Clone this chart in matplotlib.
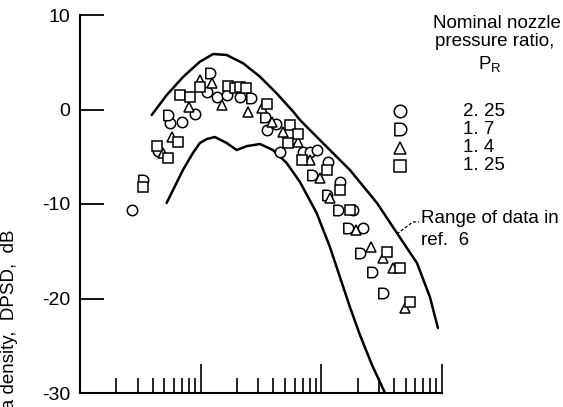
import numpy as np
import matplotlib
matplotlib.use("Agg")
import matplotlib.pyplot as plt
from matplotlib.path import Path
from matplotlib.ticker import LogLocator, NullFormatter

plt.rcParams["font.family"] = ["Liberation Sans", "DejaVu Sans"]
fs = 13.5

# range of data in ref. 6
upper_x = [0.0393, 0.0523, 0.0718, 0.0986, 0.127, 0.164, 0.225, 0.310, 0.426,
           0.585, 0.665, 0.973, 1.725, 2.89, 4.23, 6.20, 7.94, 9.25]
upper_y = [-0.58, 1.53, 3.47, 5.06, 5.87, 5.77, 4.89, 3.47, 1.71,
           -0.23, -1.11, -3.23, -6.40, -9.89, -13.07, -16.24, -19.84, -23.12]
lower_x = [0.0522, 0.0713, 0.0863, 0.0986, 0.1127, 0.131, 0.164, 0.199, 0.240,
           0.310, 0.397, 0.516, 0.665, 0.914, 1.178, 1.425, 1.725, 2.09, 2.63, 3.37]
lower_y = [-9.89, -6.40, -4.60, -3.54, -3.12, -2.91, -3.54, -4.29, -3.88,
           -3.65, -4.29, -5.66, -7.67, -10.95, -14.55, -17.72, -20.90, -23.86, -27.04, -30.0]

# measured DPSD, one pair of lists per nozzle pressure ratio
pr225_x = [0.0270, 0.0443, 0.0557, 0.0700, 0.0897, 0.1127, 0.1365, 0.165, 0.212,
           0.354, 0.421, 0.454, 0.705, 0.805, 0.920, 1.135, 1.426, 1.828, 2.213]
pr225_y = [-10.63, -4.39, -1.43, -1.32, -0.48, 1.85, 1.32, 1.53, 1.32,
           -2.17, -1.53, -4.50, -4.50, -4.50, -4.29, -5.56, -7.67, -10.63, -12.54]
pr17_x = [0.0333, 0.0536, 0.1194, 0.261, 0.341, 0.835, 1.112, 1.374, 1.660,
          2.089, 2.624, 3.236]
pr17_y = [-7.46, -0.58, 3.86, 1.22, -0.79, -6.93, -9.05, -10.63, -12.54,
          -15.19, -17.20, -19.42]
pr14_x = [0.0488, 0.0578, 0.0800, 0.0986, 0.124, 0.150, 0.247, 0.322, 0.390,
          0.481, 0.640, 0.805, 0.973, 1.178, 1.936, 2.576, 3.236, 3.917, 4.932]
pr14_y = [-4.60, -2.91, 0.26, 3.12, 2.80, 0.48, -0.26, 0.16, -1.32,
          -2.38, -3.44, -5.34, -7.25, -9.37, -12.75, -14.55, -15.71, -16.77, -21.01]
pr125_x = [0.0333, 0.0435, 0.0536, 0.0649, 0.0675, 0.0815, 0.0986, 0.168, 0.192,
           0.212, 0.237, 0.354, 0.550, 0.640, 0.528, 0.690, 1.112, 1.426, 1.726,
           3.493, 4.478, 5.420]
pr125_y = [-8.20, -3.86, -5.13, -3.44, 1.53, 1.32, 2.38, 2.49, 2.28,
           2.38, 2.28, 0.58, -1.64, -2.59, -3.54, -5.34, -6.40, -8.52, -10.63,
           -15.08, -16.77, -20.37]

ratio_labels = ["2. 25", "1. 7", "1. 4", "1. 25"]
yticks = [10, 0, -10, -20, -30]
ytick_labels = ["10", "0", "-10", "-20", "-30"]

# "D" shaped marker: flat left side, round right side
t = np.linspace(np.pi / 2, -np.pi / 2, 25)
d_verts = [(-0.45, -0.5), (-0.45, 0.5), (0.0, 0.5)]
d_verts += list(zip(0.5 * np.cos(t), 0.5 * np.sin(t)))
d_verts += [(-0.45, -0.5)]
d_marker = Path(d_verts, closed=True)

W, H = 563, 407
fig = plt.figure(figsize=(W / 100, H / 100), dpi=100)
ax = fig.add_axes([80 / W, 14 / H, 362 / W, 378 / H])

ax.plot(upper_x, upper_y, color="black", lw=1.8, solid_capstyle="round")
ax.plot(lower_x, lower_y, color="black", lw=1.8, solid_capstyle="round")

mk = dict(ls="none", mfc="white", mec="black", mew=1.1, ms=7.5)
series = [(pr225_x, pr225_y, "o"), (pr17_x, pr17_y, d_marker),
          (pr14_x, pr14_y, "^"), (pr125_x, pr125_y, "s")]
for xs, ys, m in series:
    ax.plot(xs, ys, marker=m, **mk)

# leader line to the ref. 6 note
ax.plot([4.23, 5.74, 6.44], [-13.17, -11.90, -11.90], color="black",
        lw=0.9, ls=(0, (2.5, 1.5)), clip_on=False)

ax.set_xscale("log")
ax.set_xlim(0.01, 10)
ax.set_ylim(-30, 10)
ax.set_yticks(yticks)
ax.set_yticklabels(ytick_labels)
ax.xaxis.set_major_locator(LogLocator(base=10, numticks=10))
ax.xaxis.set_minor_locator(LogLocator(base=10, subs=np.arange(2, 10), numticks=10))
ax.xaxis.set_major_formatter(NullFormatter())
ax.xaxis.set_minor_formatter(NullFormatter())

for s in ["top", "right"]:
    ax.spines[s].set_visible(False)
for s in ["left", "bottom"]:
    ax.spines[s].set_linewidth(1.5)
ax.tick_params(axis="y", direction="in", length=17, width=1.3, pad=7, labelsize=14)
ax.tick_params(axis="x", which="major", direction="in", length=21, width=1.2)
ax.tick_params(axis="x", which="minor", direction="in", length=11, width=1.2)

# legend block
fig.text(497 / W, 1 - 23 / H, "Nominal nozzle", ha="center", va="center", fontsize=fs)
fig.text(495 / W, 1 - 42 / H, "pressure ratio,", ha="center", va="center", fontsize=fs)
fig.text(490 / W, 1 - 65 / H, r"P$_\mathregular{R}$", ha="center", va="center", fontsize=fs)
row_y = [111, 129, 148, 166]
row_markers = ["o", d_marker, "^", "s"]
for yy, m, lab in zip(row_y, row_markers, ratio_labels):
    fig.lines.append(plt.Line2D([400 / W], [1 - yy / H], marker=m, transform=fig.transFigure,
                                ls="none", mfc="white", mec="black", mew=1.1, ms=9))
    fig.text(463 / W, 1 - yy / H, lab, ha="left", va="center", fontsize=fs)

fig.text(421 / W, 1 - 219 / H, "Range of data in", ha="left", va="center", fontsize=fs)
fig.text(421 / W, 1 - 241 / H, "ref.  6", ha="left", va="center", fontsize=fs)

fig.text(10 / W, 1 - 229 / H, "Dynamic pressure spectra density,  DPSD,  dB",
         rotation=90, ha="center", va="top", fontsize=13.5)

fig.savefig("out.png", dpi=100)
